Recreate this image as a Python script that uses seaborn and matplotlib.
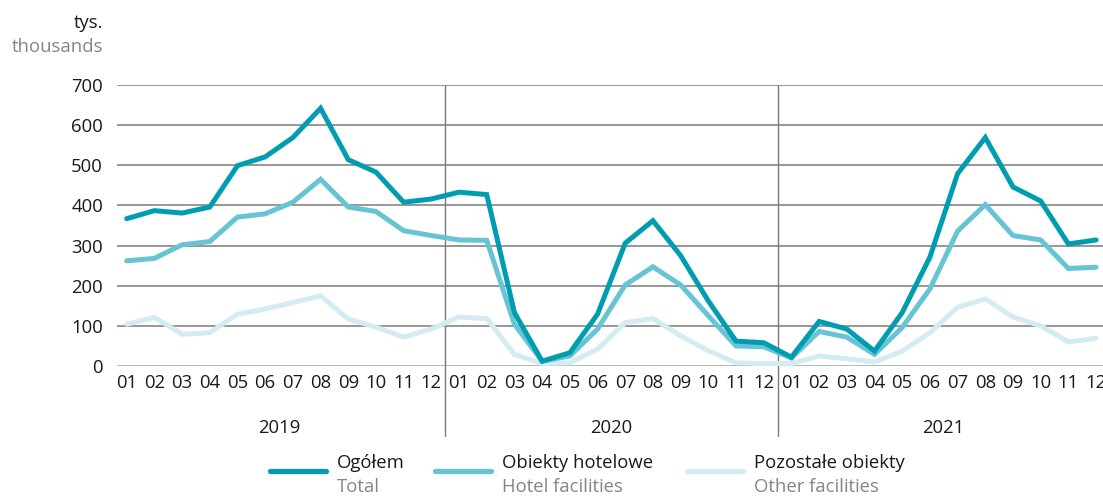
import numpy as np
import pandas as pd
import seaborn as sns
import matplotlib.pyplot as plt
from matplotlib.lines import Line2D
import matplotlib.transforms as mtransforms

sns.set_theme(style="white")
plt.rcParams['font.family'] = ['Open Sans', 'DejaVu Sans']
plt.rcParams['lines.solid_joinstyle'] = 'miter'

# data (tys. / thousands), monthly 2019-2021
months = ['01', '02', '03', '04', '05', '06', '07', '08', '09', '10', '11', '12']
years = ['2019', '2020', '2021']
ogolem = [367, 387, 381, 396, 499, 521, 569, 642, 514, 483, 408, 416,
          433, 427, 133, 12, 33, 129, 306, 362, 275, 162, 62, 58,
          22, 111, 92, 37, 133, 271, 479, 569, 446, 411, 304, 314]
hotelowe = [262, 268, 302, 310, 371, 379, 408, 465, 396, 385, 337, 325,
            314, 313, 104, 12, 25, 92, 202, 247, 202, 125, 50, 48,
            20, 86, 72, 29, 96, 192, 336, 402, 325, 314, 243, 246]
pozostale = [104, 121, 79, 83, 129, 142, 158, 175, 117, 97, 72, 92,
             122, 118, 29, 6, 8, 42, 108, 118, 75, 38, 8, 6,
             6, 25, 18, 10, 37, 83, 146, 167, 122, 100, 60, 69]

names_pl = ['Ogółem', 'Obiekty hotelowe', 'Pozostałe obiekty']
names_en = ['Total', 'Hotel facilities', 'Other facilities']
colors = ['#009db1', '#66c4d4', '#d3ebf1']

n = len(ogolem)
df = pd.DataFrame({'idx': np.arange(n), names_pl[0]: ogolem,
                   names_pl[1]: hotelowe, names_pl[2]: pozostale})
long = df.melt(id_vars='idx', var_name='series', value_name='value')

fs = 13.3
fig = plt.figure(figsize=(11.03, 4.96), dpi=100)
ax = fig.add_axes([117 / 1103, 1 - 366 / 496, 1 - 117 / 1103, (366 - 85) / 496])

grid_c = '#7a7a7a'
for v in range(100, 701, 100):
    ax.axhline(v, color=grid_c, lw=1.1, zorder=0)
ax.axhline(0, color='#b0b0b0', lw=2, zorder=0)

sns.lineplot(data=long, x='idx', y='value', hue='series',
             hue_order=names_pl[::-1], palette=dict(zip(names_pl, colors)),
             linewidth=3.6, legend=False, ax=ax)

for s in ax.spines.values():
    s.set_visible(False)
ax.set_xlim(-0.35, 35.25)
ax.set_ylim(0, 700)
ax.set_yticks(range(0, 701, 100))
ax.set_xticks(np.arange(n))
ax.set_xticklabels(months * len(years))
ax.tick_params(axis='both', length=0, labelsize=fs, colors='#1a1a1a')
ax.tick_params(axis='y', pad=10)
ax.tick_params(axis='x', pad=6)
ax.set_xlabel('')
ax.set_ylabel('')

# year separators and labels
for k in range(1, len(years)):
    ax.axvline(k * 12 - 0.5, ymin=-0.25, ymax=1, color=grid_c, lw=1,
               clip_on=False, zorder=0)
trans = mtransforms.blended_transform_factory(ax.transData, ax.transAxes)
for k, yr in enumerate(years):
    ax.text(k * 12 + 5.5, -0.22, yr, transform=trans, ha='center', va='center',
            fontsize=fs, color='#1a1a1a')

# unit label
fig.text(103 / 1103, 1 - 23 / 496, 'tys.', ha='right', va='center',
         fontsize=fs, color='#1a1a1a')
fig.text(103 / 1103, 1 - 47 / 496, 'thousands', ha='right', va='center',
         fontsize=fs, color='#858585')

# legend
handle_x = [270, 435, 687]
for hx, c, pl, en in zip(handle_x, colors, names_pl, names_en):
    fig.add_artist(Line2D([hx / 1103, (hx + 56) / 1103], [1 - 471 / 496] * 2,
                          color=c, lw=3.8, solid_capstyle='round'))
    fig.text((hx + 67) / 1103, 1 - 463 / 496, pl, ha='left', va='center',
             fontsize=fs, color='#1a1a1a')
    fig.text((hx + 67) / 1103, 1 - 487 / 496, en, ha='left', va='center',
             fontsize=fs, color='#858585')

fig.savefig('out.png', dpi=100)
